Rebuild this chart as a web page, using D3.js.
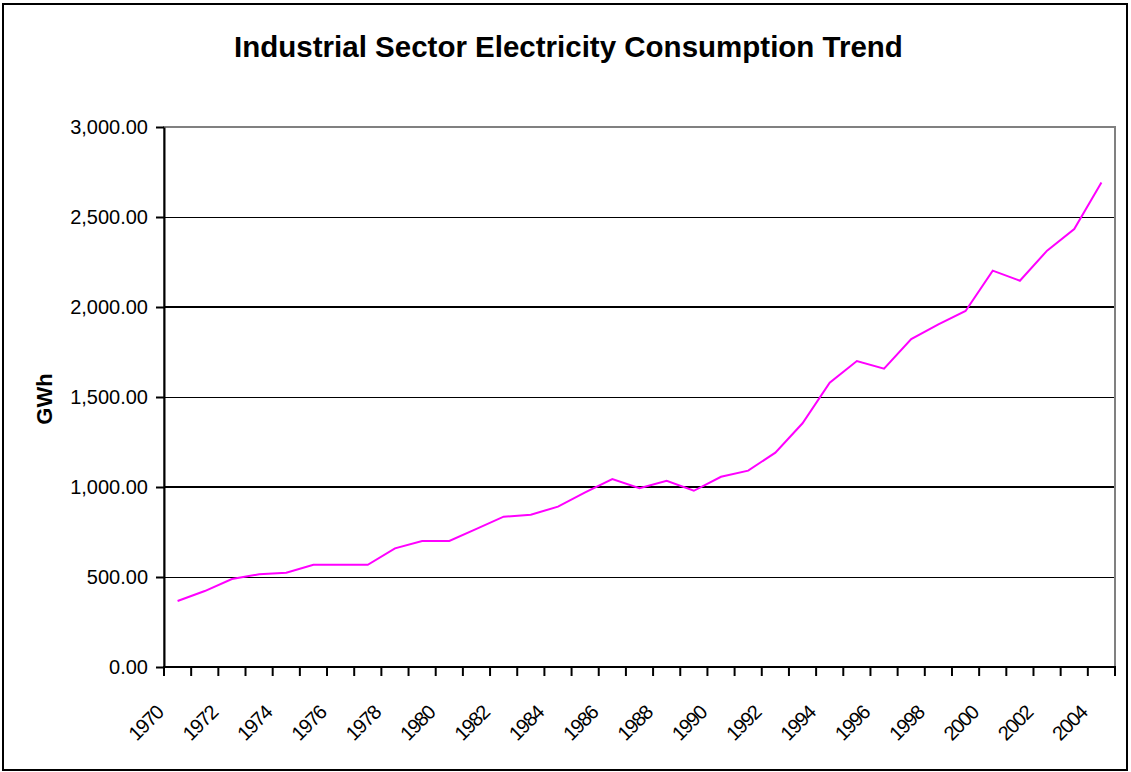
<!DOCTYPE html>
<html>
<head>
<meta charset="utf-8">
<script src="https://cdn.jsdelivr.net/npm/d3@7/dist/d3.min.js"></script>
<style>
  html, body { margin: 0; padding: 0; background: #fff; }
  svg { display: block; font-family: "Liberation Sans", Arial, sans-serif; }
</style>
</head>
<body>
<svg id="chart" width="1131" height="772"></svg>
<script>
const years = ["1970","1971","1972","1973","1974","1975","1976","1977","1978","1979",
  "1980","1981","1982","1983","1984","1985","1986","1987","1988","1989",
  "1990","1991","1992","1993","1994","1995","1996","1997","1998","1999",
  "2000","2001","2002","2003","2004"];
const consumption = [367, 422, 489, 515, 524, 568, 568, 568, 659, 700,
  700, 767, 835, 846, 891, 970, 1044, 993, 1035, 979,
  1057, 1091, 1191, 1354, 1579, 1700, 1657, 1822, 1904, 1978,
  2202, 2146, 2313, 2433, 2691];
const yTicks = [0, 500, 1000, 1500, 2000, 2500, 3000];
const xLabels = ["1970","1972","1974","1976","1978","1980","1982","1984","1986","1988",
  "1990","1992","1994","1996","1998","2000","2002","2004"];
const titleText = "Industrial Sector Electricity Consumption Trend";
const yTitle = "GWh";

const svg = d3.select("#chart");
const W = 1131, H = 772;
const plot = {left: 164, right: 1115, top: 127, bottom: 667};

svg.append("rect").attr("x", 0).attr("y", 0).attr("width", W).attr("height", H).attr("fill", "#fff");
// outer chart border
svg.append("rect").attr("x", 3).attr("y", 4).attr("width", 1124).attr("height", 766)
  .attr("fill", "none").attr("stroke", "#000").attr("stroke-width", 2);

const x = d3.scaleBand().domain(years).range([plot.left, plot.right]).padding(0);
const y = d3.scaleLinear().domain([0, 3000]).range([plot.bottom, plot.top]);

// plot area border (gray)
svg.append("rect").attr("x", plot.left).attr("y", plot.top)
  .attr("width", plot.right - plot.left).attr("height", plot.bottom - plot.top)
  .attr("fill", "none").attr("stroke", "#808080").attr("stroke-width", 2);

// gridlines
svg.append("g").selectAll("line").data(yTicks.filter(d => d > 0 && d < 3000)).join("line")
  .attr("x1", plot.left).attr("x2", plot.right - 1)
  .attr("y1", d => Math.round(y(d)) + ((d % 1000 === 0) ? 0 : 0.5))
  .attr("y2", d => Math.round(y(d)) + ((d % 1000 === 0) ? 0 : 0.5))
  .attr("stroke", "#000").attr("stroke-width", d => d % 1000 === 0 ? 2 : 1);

// y axis
const fmt = d3.format(",.2f");
const yAxis = d3.axisLeft(y).tickValues(yTicks).tickFormat(fmt).tickSizeInner(8).tickSizeOuter(0).tickPadding(8);
const gy = svg.append("g").attr("transform", `translate(${plot.left},0)`).call(yAxis);
gy.select(".domain").attr("stroke", "#000").attr("stroke-width", 2);
gy.selectAll(".tick line").attr("stroke", "#000").attr("stroke-width", 2);
gy.selectAll(".tick text").attr("font-size", 20).attr("fill", "#000")
  .attr("font-family", "Liberation Sans, Arial, sans-serif");

// x axis line and ticks at category boundaries
const bounds = years.map(d => x(d)).concat([x(years[years.length - 1]) + x.bandwidth()]);
svg.append("line").attr("x1", plot.left - 1).attr("x2", plot.right + 1)
  .attr("y1", plot.bottom).attr("y2", plot.bottom).attr("stroke", "#000").attr("stroke-width", 2);
svg.append("g").selectAll("line").data(bounds).join("line")
  .attr("x1", d => d).attr("x2", d => d).attr("y1", plot.bottom).attr("y2", plot.bottom + 9)
  .attr("stroke", "#000").attr("stroke-width", 2);

// x labels
svg.append("g").selectAll("text").data(xLabels).join("text")
  .attr("transform", d => `translate(${x(d) + x.bandwidth() / 2 - 18},709) rotate(-45)`)
  .attr("text-anchor", "end").attr("dy", "0.35em")
  .attr("font-size", 20).attr("letter-spacing", -1.3).attr("fill", "#000")
  .text(d => d);

// line
const line = d3.line().x((d, i) => x(years[i]) + x.bandwidth() / 2).y(d => y(d));
svg.append("path").datum(consumption).attr("d", line)
  .attr("fill", "none").attr("stroke", "#FF00FF").attr("stroke-width", 2)
  .attr("stroke-linejoin", "miter");

// title
svg.append("text").attr("x", 568.5).attr("y", 57).attr("text-anchor", "middle")
  .attr("font-size", 29.5).attr("font-weight", "bold").attr("fill", "#000").text(titleText);

// y title
svg.append("text").attr("transform", "translate(52,399) rotate(-90)")
  .attr("text-anchor", "middle").attr("font-size", 22).attr("font-weight", "bold").attr("fill", "#000")
  .text(yTitle);
</script>
</body>
</html>
